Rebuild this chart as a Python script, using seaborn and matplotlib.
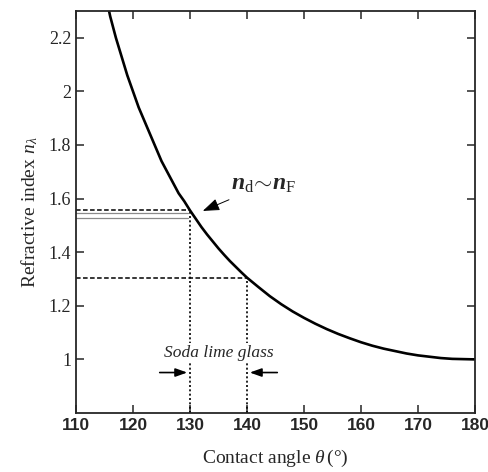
import pandas as pd
import matplotlib
matplotlib.use("Agg")
import matplotlib.pyplot as plt
import seaborn as sns

# Data
theta = [115.7, 116, 117, 118, 119, 120, 121, 122, 123, 124, 125, 126, 127,
         128, 129, 130, 131, 132, 133, 134, 135, 136, 137, 138, 139, 140,
         142, 144, 146, 148, 150, 152, 154, 156, 158, 160, 162, 164, 166,
         168, 170, 172, 174, 176, 178, 180]
n_lambda = [2.31, 2.28, 2.20, 2.13, 2.06, 2.00, 1.94, 1.89, 1.84, 1.79, 1.74,
            1.70, 1.66, 1.62, 1.59, 1.556, 1.525, 1.494, 1.466, 1.44, 1.414,
            1.39, 1.367, 1.346, 1.325, 1.305, 1.27, 1.236, 1.206, 1.179,
            1.155, 1.133, 1.113, 1.095, 1.079, 1.064, 1.051, 1.040, 1.031,
            1.022, 1.015, 1.010, 1.005, 1.002, 1.001, 1.00]

x_ticks = [110, 120, 130, 140, 150, 160, 170, 180]
y_ticks = [1.0, 1.2, 1.4, 1.6, 1.8, 2.0, 2.2]
y_tick_labels = ["1", "1.2", "1.4", "1.6", "1.8", "2", "2.2"]

# Soda lime glass range and guide levels
glass_range = [130, 140]
n_guide = [1.556, 1.305]
n_faint = [1.547, 1.527]

df = pd.DataFrame({"theta": theta, "n": n_lambda})

sns.set_style("ticks")
plt.rcParams["font.family"] = ["Liberation Serif", "DejaVu Serif"]
plt.rcParams["mathtext.fontset"] = "custom"
plt.rcParams["mathtext.rm"] = "Liberation Serif"
plt.rcParams["mathtext.it"] = "Liberation Serif:italic"
plt.rcParams["mathtext.bf"] = "Liberation Serif:italic:bold"

fig = plt.figure(figsize=(4.89, 4.72), dpi=100)
ax = fig.add_axes([0.1554, 0.125, 0.816, 0.8517])

sns.lineplot(data=df, x="theta", y="n", color="black", linewidth=1.9, ax=ax)

# guide lines
ax.plot([110, glass_range[0]], [n_guide[0], n_guide[0]], color="black",
        linewidth=1.1, linestyle=(0, (3, 1.6)))
ax.plot([110, glass_range[1]], [n_guide[1], n_guide[1]], color="black",
        linewidth=1.1, linestyle=(0, (3, 1.6)))
for v in n_faint:
    ax.plot([110, 129.7], [v, v], color="#8a8a8a", linewidth=0.9)
ax.plot([glass_range[0]] * 2, [0.8, n_guide[0]], color="black",
        linewidth=1.2, linestyle=(0, (1.2, 1.4)))
ax.plot([glass_range[1]] * 2, [0.8, n_guide[1]], color="black",
        linewidth=1.2, linestyle=(0, (1.2, 1.4)))

ax.text(135, 1.023, "Soda lime glass", style="italic", fontsize=12.5,
        ha="center", va="center",
        bbox=dict(facecolor="white", edgecolor="none", pad=1.5))

ax.annotate("", xy=(glass_range[0], 0.951), xytext=(124.2, 0.951),
            arrowprops=dict(arrowstyle="-|>,head_length=0.7,head_width=0.25",
                            color="black", lw=1.2))
ax.annotate("", xy=(glass_range[1], 0.951), xytext=(145.8, 0.951),
            arrowprops=dict(arrowstyle="-|>,head_length=0.7,head_width=0.25",
                            color="black", lw=1.2))

ax.annotate(r"$\mathbf{n}_{\mathrm{d}}\!\sim\!\mathbf{n}_{\mathrm{F}}$",
            xy=(131.8, 1.55), xytext=(137.2, 1.612),
            fontsize=17, ha="left", va="bottom",
            arrowprops=dict(arrowstyle="-|>,head_length=0.6,head_width=0.22",
                            color="black", lw=0.7))

ax.set_xlim(110, 180)
ax.set_ylim(0.8, 2.3)
ax.set_xticks(x_ticks)
ax.set_yticks(y_ticks)
ax.set_yticklabels(y_tick_labels)
for lab in ax.get_xticklabels():
    lab.set_family("Liberation Sans")
    lab.set_fontweight("bold")
    lab.set_fontsize(12.5)
for lab in ax.get_yticklabels():
    lab.set_fontsize(13)

ax.tick_params(direction="in", length=6, width=1.1, top=True, right=True)
for sp in ax.spines.values():
    sp.set_visible(True)
    sp.set_linewidth(1.3)

ax.set_xlabel(r"Contact angle $\mathit{\theta}\,$(°)", fontsize=14, labelpad=11)
ax.set_ylabel(r"Refractive index $\mathit{n}_{\lambda}$", fontsize=14, labelpad=6)

fig.savefig("out.png", dpi=100)
